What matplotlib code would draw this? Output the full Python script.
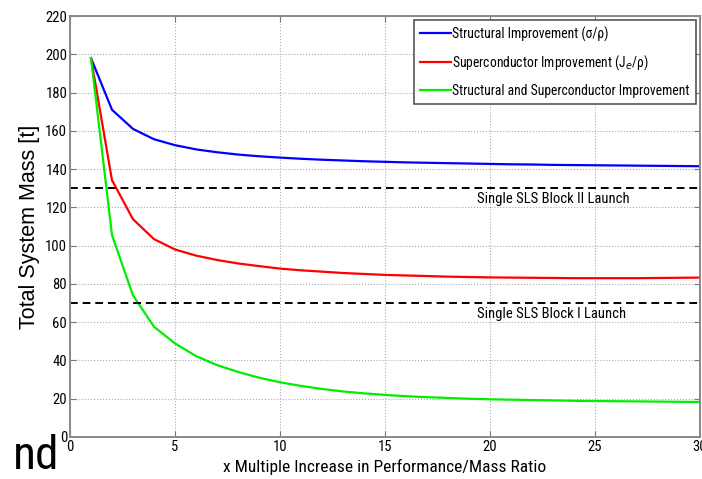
import matplotlib
matplotlib.use('Agg')
import matplotlib.pyplot as plt

# values at each integer multiple
multiple = list(range(1, 31))
structural = [198, 171, 161, 155.6, 152.5, 150.3, 148.8, 147.6, 146.7, 146.0,
              145.4, 144.9, 144.5, 144.1, 143.8, 143.5, 143.3, 143.1, 142.9, 142.7,
              142.5, 142.4, 142.2, 142.1, 142.0, 141.9, 141.8, 141.7, 141.6, 141.5]
supercond = [198, 134.2, 113.8, 103.4, 98.0, 94.8, 92.5, 90.7, 89.3, 88.0,
             87.1, 86.4, 85.7, 85.2, 84.7, 84.4, 84.1, 83.8, 83.6, 83.4,
             83.3, 83.2, 83.1, 83.0, 83.0, 83.0, 83.0, 83.1, 83.2, 83.3]
combined = [198, 105.5, 74.0, 57.6, 48.9, 42.3, 37.6, 34.0, 31.0, 28.6,
            26.7, 25.1, 23.8, 22.8, 22.0, 21.3, 20.8, 20.4, 20.0, 19.7,
            19.5, 19.3, 19.1, 18.9, 18.8, 18.7, 18.6, 18.5, 18.4, 18.3]
launch_limits = [130, 70]
launch_labels = ['Single SLS Block II Launch', 'Single SLS Block I Launch']

narrow = ['Roboto Condensed', 'Liberation Sans', 'DejaVu Sans']

fig = plt.figure(figsize=(7.02, 4.79), dpi=100)
ax = fig.add_axes([70 / 702, 42 / 479, 630 / 702, 421 / 479])

ax.plot(multiple, structural, color='#0000ff', lw=1.6, label='Structural Improvement (σ/ρ)')
ax.plot(multiple, supercond, color='#ff0000', lw=1.6, label='Superconductor Improvement (J$_e$/ρ)')
ax.plot(multiple, combined, color='#00ee00', lw=1.6, label='Structural and Superconductor Improvement')

for val, txt in zip(launch_limits, launch_labels):
    ax.axhline(val, color='black', ls=(0, (4, 2.5)), lw=1.4)
    ax.text(19.4, val - 2.2, txt, ha='left', va='top', fontsize=10.5, family=narrow)

ax.set_xlim(0, 30)
ax.set_ylim(0, 220)
ax.set_xticks(range(0, 31, 5))
ax.set_yticks(range(0, 221, 20))
ax.grid(True, ls=':', color='#aaaaaa', lw=0.8)
ax.tick_params(direction='in', top=True, right=True, length=4, labelsize=10.5,
               color='#777777', pad=2)
for lab in ax.get_xticklabels() + ax.get_yticklabels():
    lab.set_family(narrow)
for sp in ax.spines.values():
    sp.set_color('#888888')
    sp.set_linewidth(1.4)

ax.set_ylabel('Total System Mass [t]', fontsize=15.5, family='Liberation Sans', labelpad=4)
ax.set_xlabel('x Multiple Increase in Performance/Mass Ratio', fontsize=12.5, family=narrow, labelpad=4)

leg = ax.legend(loc='upper right', prop={'family': narrow, 'size': 9.8},
                fancybox=False, framealpha=1, edgecolor='#555555', handlelength=2.3,
                borderaxespad=0.3, handletextpad=0.1, labelspacing=0.85, borderpad=0.45)
leg.get_frame().set_linewidth(1.2)

fig.text(13 / 702, 10 / 479, 'nd', fontsize=34, family=narrow, ha='left', va='baseline')

fig.savefig('out.png', dpi=100)
